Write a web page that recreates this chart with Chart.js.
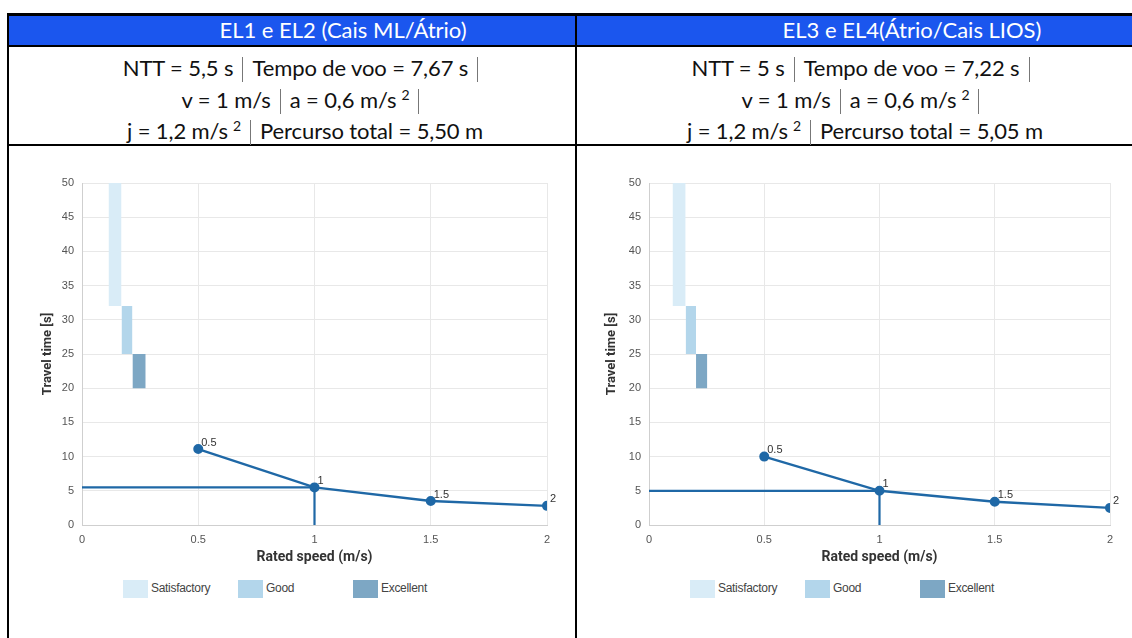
<!DOCTYPE html>
<html>
<head>
<meta charset="utf-8">
<script src="https://cdn.jsdelivr.net/npm/chart.js@4.4.1/dist/chart.umd.min.js"></script>
<style>
  html, body { margin: 0; padding: 0; background: #fff; }
  body { width: 1132px; height: 638px; position: relative; overflow: hidden; font-family: Lato, "Open Sans", sans-serif; }
  .rule { position: absolute; background: #000; }
  .head { position: absolute; top: 16px; height: 29px; background: #1b56ee; }
  .htxt { position: absolute; top: 15px; height: 30px; line-height: 30px; width: 400px; text-align: center; color: #fff; font-size: 22px; white-space: nowrap; }
  .info { position: absolute; top: 52px; width: 500px; text-align: center; font-size: 22px; line-height: 31.5px; color: #111; white-space: nowrap; letter-spacing: -0.1px; }
  .sep { display: inline-block; width: 1px; height: 25px; background: #777; vertical-align: -6px; margin: 0 9px; }
  sup { font-size: 14px; vertical-align: 8px; margin-left: 5px; line-height: 0; }
  canvas { position: absolute; }
  .legend { position: absolute; top: 580px; height: 18px; font: 12px "Liberation Sans", Arial, sans-serif; color: #444; letter-spacing: -0.3px; }
  .legend .item { position: absolute; top: 0; white-space: nowrap; }
  .legend .box { display: inline-block; width: 25px; height: 18px; vertical-align: middle; margin-right: 3px; }
</style>
</head>
<body>

<!-- table frame -->
<div class="head" style="left:9px; width:1123px;"></div>
<div class="rule" style="left:7px; top:13px; width:1125px; height:3px;"></div>
<div class="rule" style="left:7px; top:45px; width:1125px; height:2px;"></div>
<div class="rule" style="left:7px; top:144px; width:1125px; height:2px;"></div>
<div class="rule" style="left:7px; top:13px; width:2px; height:625px;"></div>
<div class="rule" style="left:575px; top:13px; width:2px; height:625px;"></div>

<div class="htxt" style="left:143px;">EL1 e EL2 (Cais ML/Átrio)</div>
<div class="htxt" style="left:712px;">EL3 e EL4(Átrio/Cais LIOS)</div>

<div class="info" style="left:55px;">
  NTT = 5,5 s<span class="sep"></span>Tempo de voo = 7,67 s<span class="sep"></span><br>
  v = 1 m/s<span class="sep"></span>a = 0,6 m/s<sup>2</sup><span class="sep"></span><br>
  j = 1,2 m/s<sup>2</sup><span class="sep"></span>Percurso total = 5,50 m
</div>
<div class="info" style="left:615px;">
  NTT = 5 s<span class="sep"></span>Tempo de voo = 7,22 s<span class="sep"></span><br>
  v = 1 m/s<span class="sep"></span>a = 0,6 m/s<sup>2</sup><span class="sep"></span><br>
  j = 1,2 m/s<sup>2</sup><span class="sep"></span>Percurso total = 5,05 m
</div>

<canvas id="chartLeft" width="560" height="420" style="left:10px; top:150px;"></canvas>
<canvas id="chartRight" width="546" height="420" style="left:586px; top:150px;"></canvas>
<div class="legend" id="legendLeft" style="left:123px;"></div>
<div class="legend" id="legendRight" style="left:690px;"></div>

<script>
// rated speeds (x) and travel times (y)
const speeds = [0.5, 1, 1.5, 2];
const timesLeft = [11.1, 5.5, 3.5, 2.8];
const timesRight = [10.0, 5.0, 3.4, 2.5];

const ratedSpeed = 1;
const nttLeft = 5.5;
const nttRight = 5;

// performance bands
const bandNames = ['Satisfactory', 'Good', 'Excellent'];
const bandLow = [32, 25, 20];
const bandHigh = [50, 32, 25];
const bandFromLeft = [0.114, 0.170, 0.217];
const bandToLeft = [0.170, 0.217, 0.274];
const bandFromRight = [0.102, 0.159, 0.204];
const bandToRight = [0.159, 0.204, 0.253];
const bandColors = ['#d9ecf7', '#b3d6eb', '#7da7c4'];

const lineBlue = '#1f68a6';

// little labels next to each point ("0.5", "1", ...)
const pointLabels = {
  id: 'pointLabels',
  afterDatasetsDraw(chart) {
    const ctx = chart.ctx;
    const meta = chart.getDatasetMeta(chart.data.datasets.length - 1);
    ctx.save();
    ctx.font = '11px "Liberation Sans", Arial, sans-serif';
    ctx.fillStyle = '#333';
    ctx.textAlign = 'left';
    ctx.textBaseline = 'bottom';
    meta.data.forEach((pt, i) => {
      ctx.fillText(String(speeds[i]), pt.x + 3, pt.y - 1);
    });
    ctx.restore();
  }
};

function makeChart(id, times, ntt, bandFrom, bandTo, padLeft, yWidth, padRight) {
  const bandSets = bandNames.map((name, i) => ({
    label: name,
    data: [{ x: bandFrom[i], y: bandHigh[i] }, { x: bandTo[i], y: bandHigh[i] }],
    showLine: true,
    fill: { value: bandLow[i] },
    backgroundColor: bandColors[i],
    borderWidth: 0,
    pointRadius: 0,
  }));

  const guide = {
    label: 'NTT',
    data: [{ x: 0, y: ntt }, { x: ratedSpeed, y: ntt }, { x: ratedSpeed, y: 0 }],
    showLine: true,
    borderColor: lineBlue,
    borderWidth: 2.2,
    pointRadius: 0,
    fill: false,
  };

  const series = {
    label: 'Travel time',
    data: speeds.map((s, i) => ({ x: s, y: times[i] })),
    showLine: true,
    borderColor: lineBlue,
    backgroundColor: lineBlue,
    borderWidth: 2.4,
    pointRadius: 3.8,
    pointBackgroundColor: lineBlue,
    pointBorderColor: lineBlue,
    fill: false,
  };

  const tickFont = { family: '"Liberation Sans", Arial, sans-serif', size: 11 };

  return new Chart(document.getElementById(id), {
    type: 'scatter',
    data: { datasets: [...bandSets, guide, series] },
    options: {
      responsive: false,
      animation: false,
      layout: { padding: { left: padLeft, right: padRight, top: 33, bottom: 0 } },
      plugins: { legend: { display: false }, tooltip: { enabled: false } },
      scales: {
        x: {
          type: 'linear',
          min: 0, max: 2,
          grid: { color: '#e8e8e8', drawTicks: false },
          border: { color: '#cfcfcf' },
          ticks: { stepSize: 0.5, padding: 8, color: '#555', font: tickFont, callback: (v) => String(v) },
          title: { display: true, text: 'Rated speed (m/s)', color: '#333', font: { family: 'Roboto, sans-serif', size: 14, weight: 'bold' } },
          afterFit: (s) => { s.height = 45; },
        },
        y: {
          min: 0, max: 50,
          grid: { color: '#e8e8e8', drawTicks: false },
          border: { color: '#cfcfcf' },
          ticks: { stepSize: 5, padding: 8, color: '#555', font: tickFont },
          title: { display: true, text: 'Travel time [s]', color: '#333', font: { family: 'Roboto, sans-serif', size: 13, weight: 'bold' } },
          afterFit: (s) => { s.width = yWidth; },
        },
      },
    },
    plugins: [pointLabels],
  });
}

makeChart('chartLeft', timesLeft, nttLeft, bandFromLeft, bandToLeft, 26, 46, 23);
makeChart('chartRight', timesRight, nttRight, bandFromRight, bandToRight, 14, 49, 22);

function buildLegend(id) {
  const el = document.getElementById(id);
  el.innerHTML = bandNames.map((name, i) =>
    `<span class="item" style="left:${i * 115}px"><span class="box" style="background:${bandColors[i]}"></span>${name}</span>`
  ).join('');
}
buildLegend('legendLeft');
buildLegend('legendRight');
</script>
</body>
</html>
